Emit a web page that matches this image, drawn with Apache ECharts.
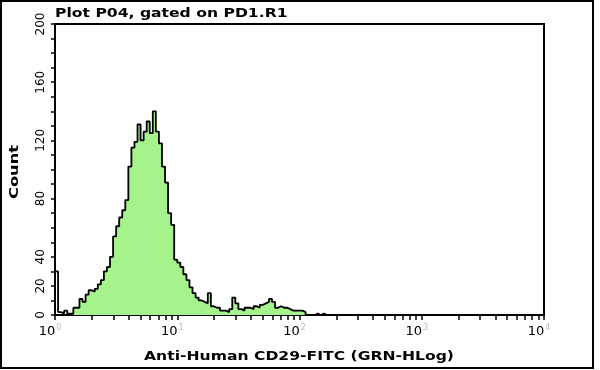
<!DOCTYPE html>
<html>
<head>
<meta charset="utf-8">
<script src="https://cdn.jsdelivr.net/npm/echarts@6/dist/echarts.min.js"></script>
<style>html,body{margin:0;padding:0;background:#fff;}#c{width:600px;height:370px;}</style>
</head>
<body>
<div id="c"></div>
<script>
// Histogram: counts per bin, each bin = 1/40 decade, starting at 10^0
const binsPerDecade = 40;
const counts = [
  30, 2, 1, 3, 1, 1, 5, 5, 11, 9,
  14, 17, 16, 18, 21, 24, 30, 33, 40, 54,
  61, 67, 72, 79, 102, 115, 119, 131, 120, 126,
  133, 125, 140, 126, 118, 102, 91, 70, 62, 38,
  36, 33, 28, 24, 19, 15, 12, 10, 9, 8,
  15, 6, 5, 5, 3, 3, 2, 4, 12, 8,
  4, 3, 5, 5, 4, 6, 5, 7, 8, 9,
  11, 9, 5, 6, 5, 5, 4, 3, 3, 3,
  3, 2, 0, 0, 0, 1, 0, 1, 0
];
// Gated (filled) region: bin indices
const gateStartBin = 6;
const gateEndBin = 81;

const xDecades = [0, 1, 2, 3, 4];
const xMinorMultipliers = [1, 2, 3, 4, 5, 6, 7, 8, 9];
const yLabels = [0, 20, 40, 80, 120, 160, 200];

const titleText = 'Plot P04, gated on PD1.R1';
const xName = 'Anti-Human CD29-FITC (GRN-HLog)';
const yName = 'Count';

// build step data in log10 space
const lineData = counts.map((c, i) => [i / binsPerDecade, c]);
lineData.push([counts.length / binsPerDecade, 0]);
const areaData = [];
for (let i = gateStartBin; i <= gateEndBin; i++) areaData.push([i / binsPerDecade, counts[i]]);
areaData.push([(gateEndBin + 1) / binsPerDecade, 0]);

const xTicks = [];
xDecades.slice(0, -1).forEach(d => xMinorMultipliers.forEach(m => xTicks.push(d + Math.log10(m))));
xTicks.push(xDecades[xDecades.length - 1]);

const chart = echarts.init(document.getElementById('c'), null, {renderer: 'canvas'});
const font = 'DejaVu Sans';
chart.setOption({
  animation: false,
  backgroundColor: '#fff',
  grid: {left: 55, right: 56, top: 24, bottom: 55, show: true, borderColor: '#000', borderWidth: 2, containLabel: false},
  xAxis: {
    type: 'value', min: 0, max: 4,
    axisLine: {show: true, lineStyle: {color: '#000', width: 2}},
    axisTick: {show: true, length: 5, lineStyle: {color: '#000', width: 1.5}, customValues: xTicks},
    splitLine: {show: false},
    axisLabel: {
      customValues: xDecades, margin: 9, padding: [0, 10, 0, 0],
      formatter: v => '{a|10}{s|' + v + '}',
      rich: {
        a: {fontSize: 13, color: '#000', fontFamily: font},
        s: {fontSize: 8, color: '#b8b8b8', fontFamily: font, padding: [0, 0, 8, 1]}
      }
    }
  },
  yAxis: {
    type: 'value', min: 0, max: 200, interval: 10,
    axisLine: {show: true, lineStyle: {color: '#000', width: 2}},
    axisTick: {show: true, length: 4, lineStyle: {color: '#000', width: 1.5}},
    splitLine: {show: false},
    axisLabel: {customValues: yLabels, rotate: 90, margin: 8, fontSize: 12, color: '#000', fontFamily: font}
  },
  series: [
    {
      type: 'line', data: areaData, step: 'end', symbol: 'none',
      lineStyle: {width: 0}, areaStyle: {color: '#a6f28c', opacity: 1}, z: 1, silent: true
    },
    {
      type: 'line', data: lineData, step: 'end', symbol: 'none',
      lineStyle: {color: '#000', width: 1.8}, z: 2, silent: true
    }
  ],
  graphic: [
    {type: 'rect', shape: {x: 1, y: 1, width: 592, height: 367}, style: {fill: 'none', stroke: '#000', lineWidth: 2}},
    {type: 'text', x: 55, y: 7, scaleX: 1.2, style: {text: titleText, x: 0, y: 0, fill: '#000', font: 'bold 13px "DejaVu Sans"', textVerticalAlign: 'top'}},
    {type: 'text', x: 299, y: 350, scaleX: 1.2, style: {text: xName, x: 0, y: 0, fill: '#000', font: 'bold 13px "DejaVu Sans"', textAlign: 'center', textVerticalAlign: 'top'}},
    {type: 'text', x: 15, y: 172, rotation: Math.PI / 2, scaleX: 1.25, style: {text: yName, x: 0, y: 0, fill: '#000', font: 'bold 13px "DejaVu Sans"', textAlign: 'center', textVerticalAlign: 'middle'}}
  ]
});
</script>
</body>
</html>
